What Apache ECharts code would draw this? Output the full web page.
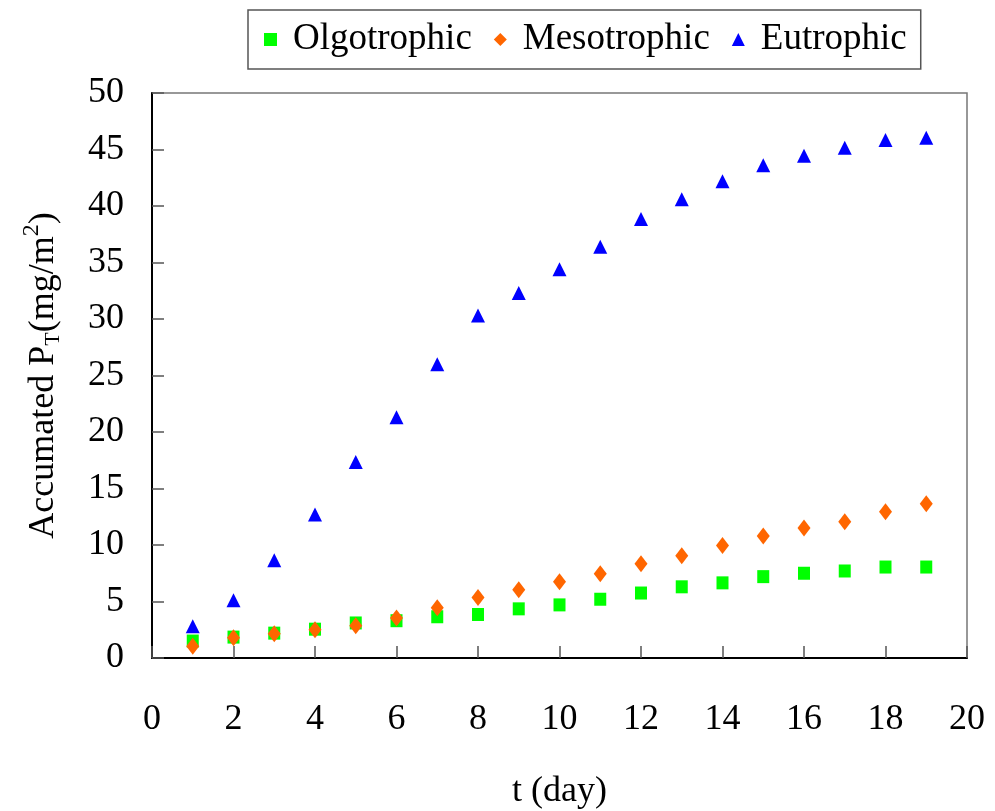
<!DOCTYPE html>
<html><head><meta charset="utf-8">
<script src="https://cdn.jsdelivr.net/npm/echarts@6/dist/echarts.min.js"></script>
<style>html,body{margin:0;padding:0;background:#fff}#c{width:995px;height:811px}</style>
</head><body><div id="c"></div>
<script>
const days = [1,2,3,4,5,6,7,8,9,10,11,12,13,14,15,16,17,18,19];
const olgotrophic = [1.5,1.85,2.2,2.55,3.1,3.3,3.65,3.85,4.35,4.7,5.2,5.75,6.3,6.65,7.2,7.5,7.7,8.05,8.05];
const mesotrophic = [1.05,1.8,2.15,2.5,2.85,3.55,4.45,5.35,6.05,6.75,7.45,8.35,9.05,9.95,10.8,11.5,12.05,12.95,13.65];
const eutrophic = [2.8,5.1,8.65,12.7,17.35,21.3,26.0,30.3,32.3,34.4,36.4,38.85,40.6,42.2,43.6,44.45,45.15,45.85,46.05];
const seriesNames = ['Olgotrophic','Mesotrophic','Eutrophic'];

const pair = arr => days.map((d,i)=>[d,arr[i]]);
const font = 'Liberation Serif';
const chart = echarts.init(document.getElementById('c'));
chart.setOption({
  animation:false,
  backgroundColor:'#fff',
  textStyle:{fontFamily:font},
  legend:{
    left:248, top:10,
    padding:[11,14,11,16],
    borderColor:'#555', borderWidth:1.5,
    itemWidth:13, itemHeight:13, itemGap:22,
    textStyle:{fontFamily:font, fontSize:37, color:'#000', padding:[0,0,0,11]},
    data:[
      {name:seriesNames[0], icon:'rect'},
      {name:seriesNames[1], icon:'diamond'},
      {name:seriesNames[2], icon:'triangle'}
    ]
  },
  grid:{left:152, right:28, top:93, bottom:153, show:true, borderColor:'#777', borderWidth:1.5,
        containLabel:false, outerBoundsMode:'none'},
  xAxis:{
    type:'value', min:0, max:20, interval:2,
    name:'t (day)', nameLocation:'middle', nameGap:116,
    nameTextStyle:{fontFamily:font, fontSize:36, color:'#000'},
    axisLine:{lineStyle:{color:'#000', width:2}},
    axisTick:{inside:true, length:12, lineStyle:{color:'#555', width:1.5}},
    axisLabel:{fontFamily:font, fontSize:36, color:'#000', margin:44},
    splitLine:{show:false}
  },
  yAxis:{
    type:'value', min:0, max:50, interval:5,
    name:'{a|Accumated P}{sub|T}{a|(mg/m}{sup|2}{a|)}',
    nameLocation:'middle', nameGap:84, nameRotate:90,
    nameTextStyle:{
      fontFamily:font, fontSize:36, color:'#000',
      rich:{
        a:{fontFamily:font, fontSize:36, color:'#000', lineHeight:48, verticalAlign:'middle'},
        sub:{fontFamily:font, fontSize:22, color:'#000', lineHeight:48, verticalAlign:'bottom', padding:[0,0,4,0]},
        sup:{fontFamily:font, fontSize:24, color:'#000', lineHeight:48, verticalAlign:'top'}
      }
    },
    axisLine:{lineStyle:{color:'#000', width:2}},
    axisTick:{inside:true, length:12, lineStyle:{color:'#555', width:1.5}},
    axisLabel:{fontFamily:font, fontSize:36, color:'#000', margin:28, padding:[6,0,0,0]},
    splitLine:{show:false}
  },
  series:[
    {name:seriesNames[0], type:'scatter', symbol:'rect', symbolSize:[12,13], itemStyle:{color:'#00ff00', opacity:1}, data:pair(olgotrophic), z:2},
    {name:seriesNames[1], type:'scatter', symbol:'diamond', symbolSize:[13,17], itemStyle:{color:'#ff6600', opacity:1}, data:pair(mesotrophic), z:3},
    {name:seriesNames[2], type:'scatter', symbol:'triangle', symbolSize:[14,14], itemStyle:{color:'#0000ff', opacity:1}, data:pair(eutrophic), z:4}
  ]
});
</script></body></html>
